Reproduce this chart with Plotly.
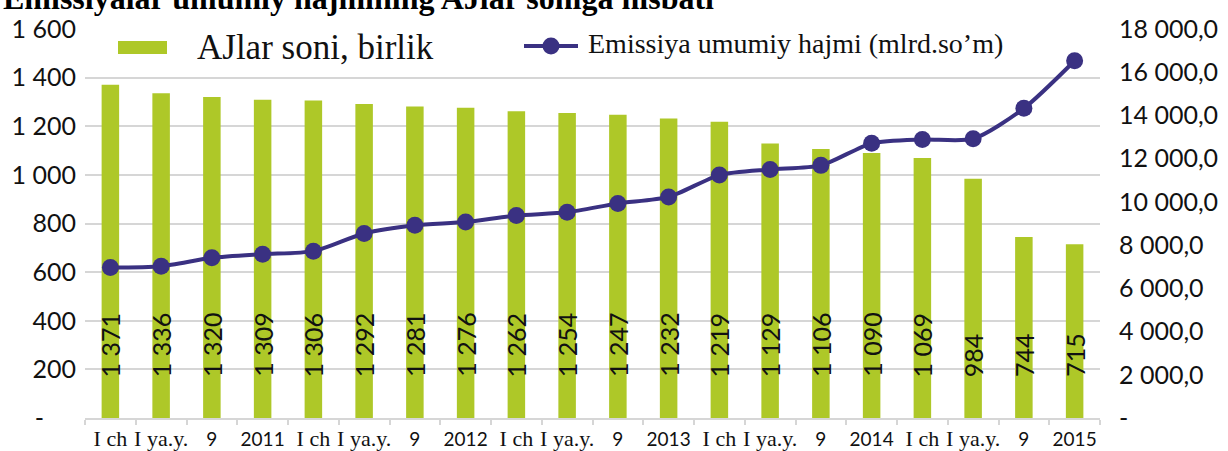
import plotly.graph_objects as go

# Reporting periods (unique keys) and the labels shown under each bar
periods = [
    "2011 I ch", "2011 I ya.y.", "2011 9", "2011 Y",
    "2012 I ch", "2012 I ya.y.", "2012 9", "2012 Y",
    "2013 I ch", "2013 I ya.y.", "2013 9", "2013 Y",
    "2014 I ch", "2014 I ya.y.", "2014 9", "2014 Y",
    "2015 I ch", "2015 I ya.y.", "2015 9", "2015 Y",
]
period_labels = [
    "I ch", "I ya.y.", "9", "2011",
    "I ch", "I ya.y.", "9", "2012",
    "I ch", "I ya.y.", "9", "2013",
    "I ch", "I ya.y.", "9", "2014",
    "I ch", "I ya.y.", "9", "2015",
]

# Number of joint-stock companies (units)
aj_count = [1371, 1336, 1320, 1309, 1306, 1292, 1281, 1276, 1262, 1254,
            1247, 1232, 1219, 1129, 1106, 1090, 1069, 984, 744, 715]

# Total issue volume (bln. so'm)
emission_total = [6960, 7020, 7410, 7580, 7720, 8540, 8920, 9070, 9370, 9520,
                  9930, 10230, 11240, 11500, 11690, 12710, 12890, 12920, 14330, 16530]

left_ticks = [0, 200, 400, 600, 800, 1000, 1200, 1400, 1600]
left_ticktext = ["-\u00a0\u00a0\u00a0\u00a0\u00a0", "200", "400", "600", "800",
                 "1 000", "1 200", "1 400", "1 600"]
right_ticks = [0, 2000, 4000, 6000, 8000, 10000, 12000, 14000, 16000, 18000]
right_ticktext = ["-", "2 000,0", "4 000,0", "6 000,0", "8 000,0", "10 000,0",
                  "12 000,0", "14 000,0", "16 000,0", "18 000,0"]

BAR_COLOR = "#aec828"
LINE_COLOR = "#3a3182"
GRID_COLOR = "#d6d6d6"
SERIF = "Liberation Serif"
SANS = "Lato"

W, H = 1228, 451
ML, MR, MT, MB = 85, 128, 29, 33
PW, PH = W - ML - MR, H - MT - MB


def px_x(p):
    return (p - ML) / PW


def px_y(p):
    return (H - MB - p) / PH


def tick_label(text):
    if text.startswith("I"):
        return f'<span style="font-family:{SERIF};font-size:22px">{text}</span>'
    return text


fig = go.Figure()

fig.add_trace(go.Bar(
    x=periods, y=aj_count, name="AJlar soni, birlik",
    marker=dict(color=BAR_COLOR, line=dict(width=0)),
    yaxis="y", showlegend=False,
))

fig.add_trace(go.Scatter(
    x=periods, y=emission_total, name="Emissiya umumiy hajmi (mlrd.so’m)",
    mode="lines+markers",
    line=dict(color=LINE_COLOR, width=4, shape="spline", smoothing=0.7),
    marker=dict(color=LINE_COLOR, size=17),
    yaxis="y2", showlegend=False,
))

annotations = []
# value labels, rotated, sitting near the base of each bar
for p, v in zip(periods, aj_count):
    annotations.append(dict(
        x=p, y=160, xref="x", yref="y", text=f"{v:,}".replace(",", " "),
        textangle=-90, showarrow=False, yanchor="bottom", xanchor="center",
        font=dict(family=SANS, size=25, color="#111111"),
    ))

# title
annotations.append(dict(
    x=px_x(1), y=px_y(-2), xref="paper", yref="paper", xanchor="left", yanchor="middle",
    text="<b>Emissiyalar umumiy hajmining AJlar soniga nisbati</b>", showarrow=False,
    font=dict(family=SERIF, size=32, color="#000000"),
))

# legend texts
annotations.append(dict(
    x=px_x(195), y=px_y(47.5), xref="paper", yref="paper", xanchor="left", yanchor="middle",
    text="AJlar soni, birlik", showarrow=False,
    font=dict(family=SERIF, size=35, color="#111111"),
))
annotations.append(dict(
    x=px_x(586), y=px_y(43.5), xref="paper", yref="paper", xanchor="left", yanchor="middle",
    text="Emissiya umumiy hajmi (mlrd.so’m)", showarrow=False,
    font=dict(family=SERIF, size=28, color="#111111"),
))

shapes = [
    dict(type="rect", xref="paper", yref="paper",
         x0=px_x(118), x1=px_x(167), y0=px_y(54), y1=px_y(41),
         fillcolor=BAR_COLOR, line=dict(width=0)),
    dict(type="line", xref="paper", yref="paper",
         x0=px_x(524), x1=px_x(578), y0=px_y(46), y1=px_y(46),
         line=dict(color=LINE_COLOR, width=4)),
    dict(type="circle", xref="paper", yref="paper",
         x0=px_x(542.5), x1=px_x(559.5), y0=px_y(54.5), y1=px_y(37.5),
         fillcolor=LINE_COLOR, line=dict(width=0)),
]

fig.update_layout(
    width=W, height=H,
    margin=dict(l=ML, r=MR, t=MT, b=MB, pad=0, autoexpand=False),
    paper_bgcolor="white", plot_bgcolor="white",
    font=dict(family=SANS, color="#111111"),
    bargap=0.655,
    xaxis=dict(
        type="category", categoryorder="array", categoryarray=periods,
        tickvals=periods, ticktext=[tick_label(t) for t in period_labels],
        tickangle=0, automargin=False, ticklabelstandoff=3,
        tickson="boundaries", ticks="outside", ticklen=5,
        tickcolor=GRID_COLOR, tickwidth=1.5,
        showline=True, linecolor=GRID_COLOR, linewidth=1.5,
        showgrid=False, zeroline=False,
        tickfont=dict(family=SANS, size=19, color="#111111"),
        range=[-0.5, len(periods) - 0.5],
    ),
    yaxis=dict(
        range=[0, 1600], tickvals=left_ticks, ticktext=left_ticktext,
        showgrid=True, gridcolor=GRID_COLOR, gridwidth=1.5,
        zeroline=False, showline=False, ticks="", automargin=False,
        tickfont=dict(family=SANS, size=25, color="#111111"),
        ticklabelstandoff=8,
    ),
    yaxis2=dict(
        overlaying="y", side="right", automargin=False,
        range=[0, 18000], tickvals=right_ticks, ticktext=right_ticktext,
        showgrid=False, zeroline=False, showline=False, ticks="",
        tickfont=dict(family=SANS, size=25, color="#111111"),
        ticklabelstandoff=18,
    ),
    annotations=annotations,
    shapes=shapes,
)

fig.write_html("out.html")
